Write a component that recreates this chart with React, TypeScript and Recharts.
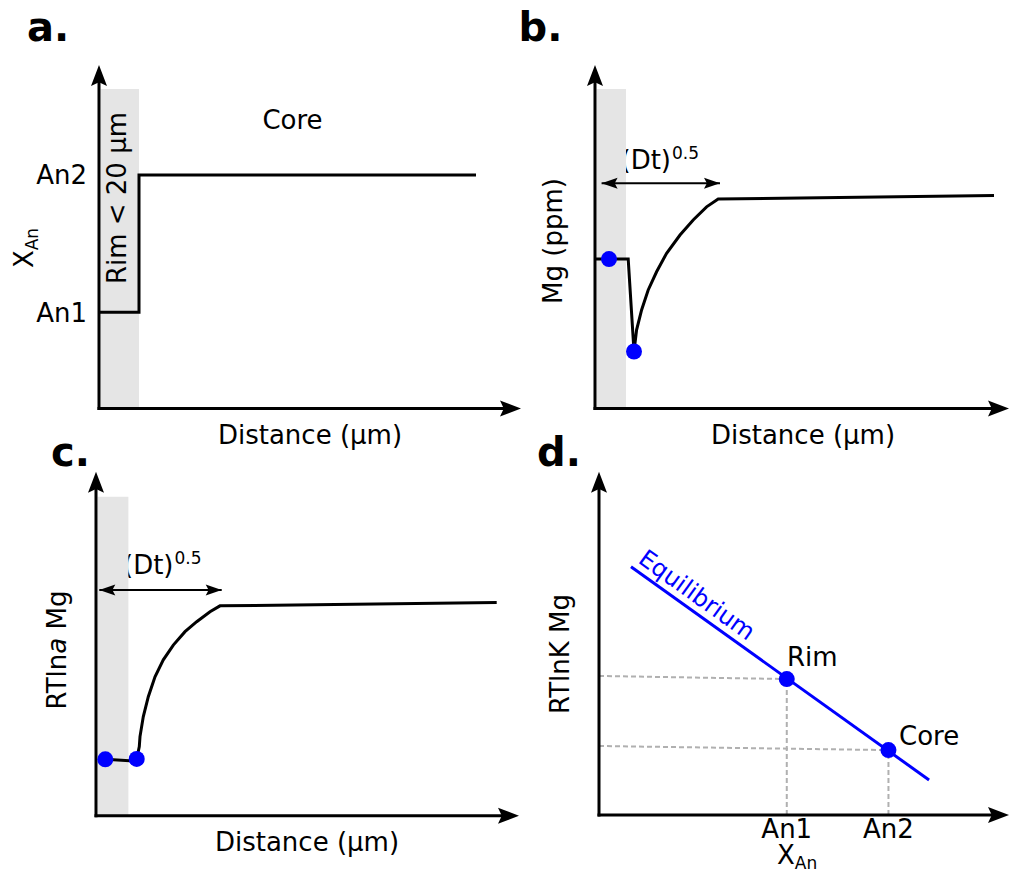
import React from 'react';
import { ComposedChart, Line, Scatter, XAxis, YAxis, ReferenceArea, ReferenceLine } from 'recharts';

const FONT = '"DejaVu Sans", Verdana, sans-serif';
const PAGE_W = 1009;
const PAGE_H = 869;

// ---------------- data (arbitrary schematic units) ----------------
// panel a: anorthite step profile (distance in µm, X_An arbitrary)
const aDistance = [0, 20, 20, 188.5];
const aXAn = [28, 28, 68, 68];
const aTickValues = [28, 68];
const aTickNames = ['An1', 'An2'];
const aRimEdge = 20;
const aBandTop = 93;
const aRimText = 'Rim < 20 µm';

// panel b: Mg (ppm) profile
const bDistance = [0, 16.6, 19.5, 20.8, 23.3, 26.6, 30.8, 35.8, 42.5, 49.1, 55.8, 61.6, 199.5];
const bMg = [43.5, 43.5, 16.6, 22.9, 28.7, 34.5, 39.8, 45.2, 50.5, 54.9, 58.7, 61.0, 62.0];
const bPointDistance = [7, 19.5];
const bPointMg = [43.5, 16.6];
const bRimEdge = 15.5;
const bBandTop = 93;
const bDtRange = [3.3, 62.5];
const bDtLevel = 65.6;

// panel c: RTln a Mg profile
const cDistance = [4.65, 18.65, 20.35, 21.65, 22, 23.65, 26.15, 29.5, 33.65, 38.65, 44.5, 50.35, 57, 62, 200.35];
const cRTlnaMg = [16.4, 15.9, 16.5, 20.1, 23.0, 28.8, 34.6, 40.4, 45.3, 49.6, 53.5, 56.4, 59.3, 61.0, 62.0];
const cPointDistance = [4.65, 20.35];
const cPointRTlnaMg = [16.4, 16.5];
const cRimEdge = 16.2;
const cBandTop = 92.7;
const cDtRange = [1.65, 62.85];
const cDtLevel = 65.6;

// panel d: RTlnK Mg vs X_An
const dEquilibriumXAn = [7.8, 80.5];
const dEquilibriumRTlnK = [72.3, 10.2];
const dPointNames = ['Rim', 'Core'];
const dPointXAn = [45.8, 70.6];
const dPointRTlnK = [39.6, 18.9];
const dGuideLeftRTlnK = [40.5, 20.1];
const dTickNames = ['An1', 'An2'];

// ---------------- layout ----------------
type Layout = { left: number; right: number; top: number; bottom: number; xMax: number; yMax: number; yW: number; xH: number };
const LAYOUT: Record<string, Layout> = {
  a: { left: 99, right: 521, top: 65, bottom: 408.5, xMax: 211, yMax: 100, yW: 60, xH: 0 },
  b: { left: 595, right: 1009, top: 65, bottom: 408.5, xMax: 207, yMax: 100, yW: 0, xH: 0 },
  c: { left: 96, right: 519, top: 471.7, bottom: 815.7, xMax: 211.5, yMax: 100, yW: 0, xH: 0 },
  d: { left: 599, right: 1009, top: 471.7, bottom: 815, xMax: 100, yMax: 100, yW: 0, xH: 30 },
};
const marginOf = (L: Layout) => ({
  left: L.left - L.yW,
  right: PAGE_W - L.right,
  top: L.top,
  bottom: PAGE_H - L.bottom - L.xH,
});

const HEAD_LEN = 21;
const HEAD_HALF = 8;
const DT_LEN = 16;
const DT_HALF = 5.5;
const NOTCH = 0.82;

const zip = (xs: number[], ys: number[]) => xs.map((x, i) => ({ x, y: ys[i] }));

function head(dir: 'up' | 'right' | 'left', len: number, half: number) {
  return (props: any) => {
    const { cx, cy } = props;
    const n = len * NOTCH;
    let d = '';
    if (dir === 'right') d = `M${cx},${cy} L${cx - len},${cy - half} L${cx - n},${cy} L${cx - len},${cy + half} Z`;
    else if (dir === 'left') d = `M${cx},${cy} L${cx + len},${cy - half} L${cx + n},${cy} L${cx + len},${cy + half} Z`;
    else d = `M${cx},${cy} L${cx - half},${cy + len} L${cx},${cy + n} L${cx + half},${cy + len} Z`;
    return <path d={d} fill="#000" stroke="none" />;
  };
}

const blueDot = (props: any) => <circle cx={props.cx} cy={props.cy} r={8} fill="#0000ff" />;

function axisPieces(L: Layout) {
  const pxX = (L.right - L.left) / L.xMax;
  const pxY = (L.bottom - L.top) / L.yMax;
  const xEnd = L.xMax - (HEAD_LEN * NOTCH) / pxX;
  const yEnd = L.yMax - (HEAD_LEN * NOTCH) / pxY;
  return [
    <ReferenceLine key="xl" segment={[{ x: 0, y: 0 }, { x: xEnd, y: 0 }]} stroke="#000" strokeWidth={3} strokeLinecap="square" ifOverflow="visible" />,
    <ReferenceLine key="yl" segment={[{ x: 0, y: 0 }, { x: 0, y: yEnd }]} stroke="#000" strokeWidth={3} strokeLinecap="square" ifOverflow="visible" />,
    <Scatter key="xh" data={[{ x: L.xMax, y: 0 }]} shape={head('right', HEAD_LEN, HEAD_HALF)} isAnimationActive={false} />,
    <Scatter key="yh" data={[{ x: 0, y: L.yMax }]} shape={head('up', HEAD_LEN, HEAD_HALF)} isAnimationActive={false} />,
  ];
}

function dtArrow(range: number[], level: number) {
  return [
    <Line key="dtl" data={zip(range, [level, level])} dataKey="y" stroke="#000" strokeWidth={2} dot={false} isAnimationActive={false} />,
    <Scatter key="dtL" data={[{ x: range[0], y: level }]} shape={head('left', DT_LEN, DT_HALF)} isAnimationActive={false} />,
    <Scatter key="dtR" data={[{ x: range[1], y: level }]} shape={head('right', DT_LEN, DT_HALF)} isAnimationActive={false} />,
  ];
}

const T = { fontFamily: FONT, fill: '#000' } as const;
const tickStyle = { fill: '#000', fontSize: 26, fontFamily: FONT };

// rotated label drawn inside the rim band (offsets are layout only)
const rimBandLabel = (props: any) => {
  const vb = props.viewBox || {};
  const bx = vb.x + vb.width / 2 + 6.5;
  const by = vb.y + 109;
  return (
    <text x={bx} y={by} fontSize={26} textAnchor="middle" transform={`rotate(-90 ${bx} ${by})`} {...T}>
      {aRimText}
    </text>
  );
};

const wrap = (child: React.ReactNode) => (
  <div style={{ position: 'absolute', left: 0, top: 0, width: PAGE_W, height: PAGE_H }}>{child}</div>
);

export default function App() {
  const La = LAYOUT.a, Lb = LAYOUT.b, Lc = LAYOUT.c, Ld = LAYOUT.d;
  return (
    <div style={{ position: 'absolute', left: 0, top: 0, width: PAGE_W, height: PAGE_H, background: '#fff', fontFamily: FONT }}>
      {/* ---------- panel a ---------- */}
      {wrap(
        <ComposedChart width={PAGE_W} height={PAGE_H} margin={marginOf(La)}>
          <XAxis dataKey="x" type="number" domain={[0, La.xMax]} hide />
          <YAxis
            dataKey="y" type="number" domain={[0, La.yMax]} width={La.yW}
            ticks={aTickValues} interval={0}
            tickFormatter={(v: number) => aTickNames[aTickValues.indexOf(v)]}
            axisLine={false} tickLine={false} tickSize={0} tickMargin={12} tick={tickStyle}
          />
          <ReferenceArea x1={0.75} x2={aRimEdge} y1={0} y2={aBandTop} fill="#e5e5e5" fillOpacity={1} stroke="none" label={rimBandLabel} />
          {axisPieces(La)}
          <Line data={zip(aDistance, aXAn)} dataKey="y" stroke="#000" strokeWidth={3} dot={false} isAnimationActive={false} />
          <text x={27} y={41} fontSize={40} fontWeight="bold" {...T}>a.</text>
          <text x={292.5} y={129} fontSize={26} textAnchor="middle" {...T}>Core</text>
          <text x={33} y={248} fontSize={26} textAnchor="middle" transform="rotate(-90 33 248)" {...T}>
            X<tspan fontSize={17} dy={5}>An</tspan>
          </text>
          <text x={310} y={444} fontSize={26} textAnchor="middle" {...T}>Distance (µm)</text>
        </ComposedChart>
      )}

      {/* ---------- panel b ---------- */}
      {wrap(
        <ComposedChart width={PAGE_W} height={PAGE_H} margin={marginOf(Lb)}>
          <XAxis dataKey="x" type="number" domain={[0, Lb.xMax]} hide />
          <YAxis dataKey="y" type="number" domain={[0, Lb.yMax]} hide />
          <ReferenceArea x1={0.75} x2={bRimEdge} y1={0} y2={bBandTop} fill="#e5e5e5" fillOpacity={1} stroke="none" />
          {axisPieces(Lb)}
          {dtArrow(bDtRange, bDtLevel)}
          <Line data={zip(bDistance, bMg)} dataKey="y" stroke="#000" strokeWidth={3} dot={false} isAnimationActive={false} />
          <Scatter data={zip(bPointDistance, bPointMg)} shape={blueDot} isAnimationActive={false} />
          <text x={518.5} y={41} fontSize={40} fontWeight="bold" {...T}>b.</text>
          <text x={620.5} y={168.5} fontSize={26} {...T}>
            (Dt)<tspan fontSize={17} dy={-9.5} dx={1}>0.5</tspan>
          </text>
          <text x={562} y={241} fontSize={26} textAnchor="middle" transform="rotate(-90 562 241)" {...T}>Mg (ppm)</text>
          <text x={803} y={444} fontSize={26} textAnchor="middle" {...T}>Distance (µm)</text>
        </ComposedChart>
      )}

      {/* ---------- panel c ---------- */}
      {wrap(
        <ComposedChart width={PAGE_W} height={PAGE_H} margin={marginOf(Lc)}>
          <XAxis dataKey="x" type="number" domain={[0, Lc.xMax]} hide />
          <YAxis dataKey="y" type="number" domain={[0, Lc.yMax]} hide />
          <ReferenceArea x1={0.75} x2={cRimEdge} y1={0} y2={cBandTop} fill="#e5e5e5" fillOpacity={1} stroke="none" />
          {axisPieces(Lc)}
          {dtArrow(cDtRange, cDtLevel)}
          <Line data={zip(cDistance, cRTlnaMg)} dataKey="y" stroke="#000" strokeWidth={3} dot={false} isAnimationActive={false} />
          <Scatter data={zip(cPointDistance, cPointRTlnaMg)} shape={blueDot} isAnimationActive={false} />
          <text x={51} y={466} fontSize={40} fontWeight="bold" {...T}>c.</text>
          <text x={123} y={573.5} fontSize={26} {...T}>
            (Dt)<tspan fontSize={17} dy={-9.5} dx={1}>0.5</tspan>
          </text>
          <text x={65.5} y={650} fontSize={26} textAnchor="middle" transform="rotate(-90 65.5 650)" {...T}>
            RTln<tspan fontStyle="italic">a</tspan> Mg
          </text>
          <text x={307} y={851} fontSize={26} textAnchor="middle" {...T}>Distance (µm)</text>
        </ComposedChart>
      )}

      {/* ---------- panel d ---------- */}
      {wrap(
        <ComposedChart width={PAGE_W} height={PAGE_H} margin={marginOf(Ld)}>
          <XAxis
            dataKey="x" type="number" domain={[0, Ld.xMax]} height={Ld.xH}
            ticks={dPointXAn} interval={0}
            tickFormatter={(v: number) => dTickNames[dPointXAn.indexOf(v)]}
            axisLine={false} tickLine={false} tickSize={0} tickMargin={5} tick={tickStyle}
          />
          <YAxis dataKey="y" type="number" domain={[0, Ld.yMax]} hide />
          {dPointXAn.map((px, i) => (
            <Line key={'h' + i} data={[{ x: 0, y: dGuideLeftRTlnK[i] }, { x: px, y: dPointRTlnK[i] }]} dataKey="y"
              stroke="#b0b0b0" strokeWidth={2} strokeDasharray="5 3" dot={false} isAnimationActive={false} />
          ))}
          {dPointXAn.map((px, i) => (
            <Line key={'v' + i} data={[{ x: px, y: 0 }, { x: px, y: dPointRTlnK[i] }]} dataKey="y"
              stroke="#b0b0b0" strokeWidth={2} strokeDasharray="5 3" dot={false} isAnimationActive={false} />
          ))}
          {axisPieces(Ld)}
          <Line data={zip(dEquilibriumXAn, dEquilibriumRTlnK)} dataKey="y" stroke="#0000ff" strokeWidth={3} dot={false} isAnimationActive={false} />
          <Scatter data={zip(dPointXAn, dPointRTlnK)} shape={blueDot} isAnimationActive={false} />
          <text x={537} y={466} fontSize={40} fontWeight="bold" {...T}>d.</text>
          <text x={569} y={654} fontSize={26} textAnchor="middle" transform="rotate(-90 569 654)" {...T}>RTlnK Mg</text>
          <text x={637} y={562} fontSize={24} fontFamily={FONT} fill="#0000ff" transform="rotate(35.6 637 562)">Equilibrium</text>
          <text x={787} y={666} fontSize={26} {...T}>{dPointNames[0]}</text>
          <text x={899} y={745} fontSize={26} {...T}>{dPointNames[1]}</text>
          <text x={777} y={864} fontSize={26} {...T}>
            X<tspan fontSize={17} dy={5}>An</tspan>
          </text>
        </ComposedChart>
      )}
    </div>
  );
}
